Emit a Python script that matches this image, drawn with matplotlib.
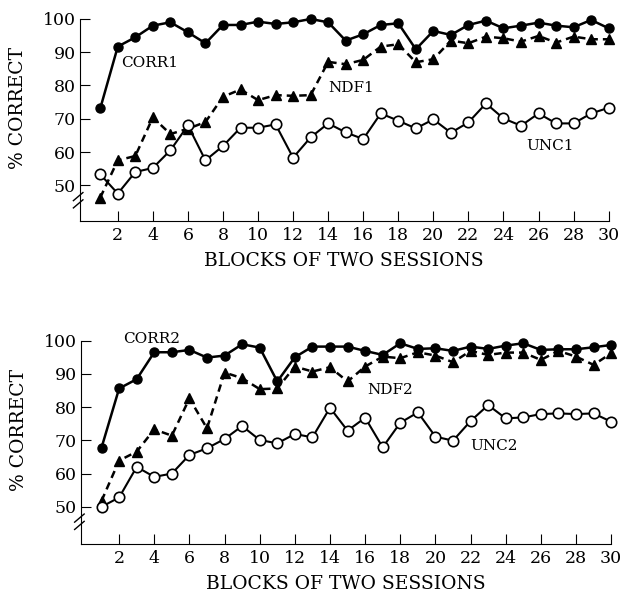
import matplotlib.pyplot as plt
import numpy as np

blocks = np.arange(1, 31)

# panel 1
corr1 = [73.1, 91.7, 94.5, 98, 99, 96, 92.7, 98.2, 98.2, 99.2, 98.5, 99, 100, 99, 93.5,
         95.4, 98.2, 98.7, 90.9, 96.4, 95.2, 98.2, 99.5, 97.2, 98, 98.9, 98, 97.5, 99.7, 97.2]
ndf1 = [46.3, 57.5, 58.8, 70.4, 65.4, 67, 69, 76.6, 78.8, 75.6, 77.1, 76.9, 77.1, 87.1, 86.4,
        87.7, 91.7, 92.4, 87, 87.9, 93.5, 92.7, 94.7, 94.2, 93.2, 94.9, 92.9, 94.7, 93.9, 93.9]
unc1 = [53.3, 47.5, 54, 55.2, 60.5, 68, 57.5, 61.8, 67.3, 67.3, 68.3, 58.3, 64.4, 68.6, 65.9,
        63.9, 71.6, 69.4, 67.1, 69.8, 65.8, 68.9, 74.6, 70.1, 67.9, 71.6, 68.6, 68.6, 71.6, 73.3]

# panel 2
corr2 = [67.8, 85.6, 88.4, 96.5, 96.5, 97.2, 94.9, 95.5, 98.9, 97.9, 87.7, 95, 98.2, 98.2, 98.2,
         96.9, 95.7, 99.2, 97.5, 97.7, 96.9, 98.2, 97.5, 98.5, 99.2, 97.2, 97.4, 97.4, 98, 98.7]
ndf2 = [51.8, 63.9, 66.6, 73.3, 71.4, 82.6, 73.6, 90.4, 88.7, 85.4, 85.6, 92.2, 90.7, 92, 87.7,
        92.2, 95.2, 94.7, 96.5, 95.5, 93.5, 96.9, 95.7, 96.4, 96.4, 94.2, 96.9, 95.2, 92.7, 96.2]
unc2 = [50, 52.8, 62, 59, 60, 65.6, 67.6, 70.4, 74.3, 70.1, 69.1, 71.9, 70.9, 79.8, 72.9,
        76.8, 67.9, 75.3, 78.4, 71.1, 69.9, 75.8, 80.6, 76.6, 76.9, 77.9, 78.1, 77.9, 78.1, 75.6]

yticks = [50, 60, 70, 80, 90, 100]
xticks = list(range(2, 31, 2))

plt.rcParams['font.family'] = 'DejaVu Serif'

fig = plt.figure(figsize=(6.23, 5.93), dpi=100)
ax1 = fig.add_axes([0.128, 0.627, 0.849, 0.341])
ax2 = fig.add_axes([0.130, 0.0826, 0.851, 0.343])


def draw_panel(ax, corr, ndf, unc, labels, ybottom):
    ax.plot(blocks, corr, '-', color='black', lw=1.8, marker='o', ms=6.5,
            mfc='black', mec='black', clip_on=False, zorder=3)
    ax.plot(blocks, ndf, '--', color='black', lw=1.8, dashes=(3, 2), marker='^', ms=7,
            mfc='black', mec='black', clip_on=False, zorder=2)
    ax.plot(blocks, unc, '-', color='black', lw=1.5, marker='o', ms=7.5,
            mfc='white', mec='black', mew=1.2, clip_on=False, zorder=4)

    for txt, (x, y) in labels:
        ax.text(x, y, txt, fontsize=11, va='center', ha='left')

    ax.set_xlim(-0.17, 30)
    ax.set_ylim(ybottom, 100)
    ax.set_yticks(yticks)
    ax.set_xticks(xticks)
    ax.tick_params(direction='in', length=7, width=0.8, labelsize=12.5, pad=4)
    ax.tick_params(axis='y', pad=3)
    ax.spines['top'].set_visible(False)
    ax.spines['right'].set_visible(False)
    for s in ['left', 'bottom']:
        ax.spines[s].set_linewidth(0.8)
    ax.set_ylabel('% CORRECT', fontsize=13.5)
    ax.yaxis.set_label_coords(-0.10, 0.56)
    ax.set_xlabel('BLOCKS OF TWO SESSIONS', fontsize=13.5, labelpad=6)

    # axis break marks on the y axis
    yb = (45.5 - ybottom) / (100 - ybottom)
    for dy in (-0.018, 0.018):
        ax.plot([-0.012, 0.006], [yb + dy - 0.02, yb + dy + 0.02], transform=ax.transAxes,
                color='black', lw=1.0, clip_on=False)


draw_panel(ax1, corr1, ndf1, unc1,
           [('CORR1', (2.17, 86.7)), ('NDF1', (14.03, 79.2)), ('UNC1', (25.3, 61.7))], 39.2)
draw_panel(ax2, corr2, ndf2, unc2,
           [('CORR2', (2.2, 100.6)), ('NDF2', (16.1, 85.2)), ('UNC2', (22.0, 68.3))], 38.8)

fig.savefig('out.png', dpi=100)
